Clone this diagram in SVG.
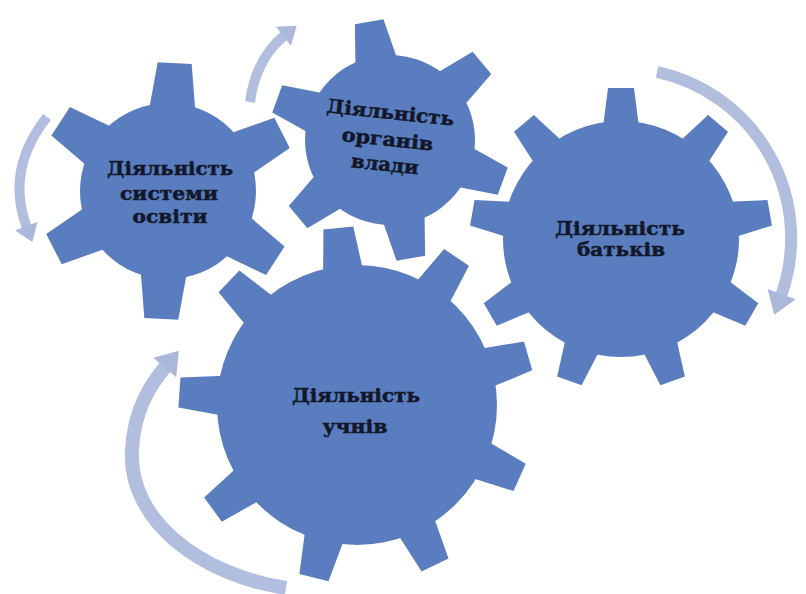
<svg xmlns="http://www.w3.org/2000/svg" xmlns:xlink="http://www.w3.org/1999/xlink" width="806" height="594" viewBox="0 0 806 594">
<style>
.gear{fill:#5a7dbf}
.lbl{font-family:"DejaVu Serif","Liberation Serif",serif;font-weight:bold;font-size:19px;fill:#121829;stroke:#121829;stroke-width:0.5px;text-anchor:middle}
.arr{fill:none;stroke:#b2bedd;stroke-linecap:butt}
</style>
<defs>
<polygon id="t1" points="-23,-82 -17,-128 17,-128 23,-82"/>
<polygon id="t2" points="-21,-80 -14.5,-120 14.5,-120 21,-80"/>
<polygon id="t3" points="-18,-112 -13,-151 13,-151 18,-112"/>
<polygon id="t4" points="-20,-134 -15,-178 15,-178 20,-134"/>
<marker id="hs" markerUnits="userSpaceOnUse" markerWidth="30" markerHeight="30" refX="2" refY="12" orient="auto" overflow="visible">
<path d="M0,0 L17,12 L0,24 z" fill="#abb8da"/>
</marker>
<marker id="hl" markerUnits="userSpaceOnUse" markerWidth="34" markerHeight="34" refX="2" refY="15" orient="auto" overflow="visible">
<path d="M0,0 L22,15 L0,30 z" fill="#abb8da"/>
</marker>
</defs>
<rect width="806" height="594" fill="#ffffff"/>

<g id="connectors">
<path class="arr" stroke-width="10" d="M 47 117 Q 5 170 27 228" marker-end="url(#hs)"/>
<path class="arr" stroke-width="10" d="M 250 102 Q 256 58 285 35" marker-end="url(#hs)"/>
<path class="arr" stroke-width="12" d="M 657 72 A 170 170 0 0 1 781 296" marker-end="url(#hl)"/>
<path class="arr" stroke-width="14" d="M 286 588 C 200 575 128 520 132 450 C 134 410 150 385 166 366" marker-end="url(#hl)"/>
</g>

<g id="gear-systemy-osvity">
<g class="gear" transform="translate(168,191)">
<circle r="88"/>
<use xlink:href="#t1" transform="rotate(3)"/>
<use xlink:href="#t1" transform="rotate(63)"/>
<use xlink:href="#t1" transform="rotate(123)"/>
<use xlink:href="#t1" transform="rotate(183)"/>
<use xlink:href="#t1" transform="rotate(243)"/>
<use xlink:href="#t1" transform="rotate(303)"/>
</g>
<text class="lbl" x="170" y="175" textLength="126" lengthAdjust="spacingAndGlyphs">Діяльність</text>
<text class="lbl" x="169" y="200" textLength="98" lengthAdjust="spacingAndGlyphs">системи</text>
<text class="lbl" x="170" y="223" textLength="75" lengthAdjust="spacingAndGlyphs">освіти</text>
</g>

<g id="gear-orhaniv-vlady">
<g class="gear" transform="translate(390,140)">
<circle r="85"/>
<use xlink:href="#t2" transform="rotate(-10)"/>
<use xlink:href="#t2" transform="rotate(50)"/>
<use xlink:href="#t2" transform="rotate(110)"/>
<use xlink:href="#t2" transform="rotate(170)"/>
<use xlink:href="#t2" transform="rotate(230)"/>
<use xlink:href="#t2" transform="rotate(290)"/>
</g>
<g transform="rotate(6 388 145)">
<text class="lbl" x="387" y="119" textLength="128" lengthAdjust="spacingAndGlyphs">Діяльність</text>
<text class="lbl" x="387" y="146" textLength="92" lengthAdjust="spacingAndGlyphs">органів</text>
<text class="lbl" x="387" y="171" textLength="68" lengthAdjust="spacingAndGlyphs">влади</text>
</g>
</g>

<g id="gear-batkiv">
<g class="gear" transform="translate(621,239)">
<circle r="118"/>
<use xlink:href="#t3" transform="rotate(0)"/>
<use xlink:href="#t3" transform="rotate(40)"/>
<use xlink:href="#t3" transform="rotate(80)"/>
<use xlink:href="#t3" transform="rotate(120)"/>
<use xlink:href="#t3" transform="rotate(160)"/>
<use xlink:href="#t3" transform="rotate(200)"/>
<use xlink:href="#t3" transform="rotate(240)"/>
<use xlink:href="#t3" transform="rotate(280)"/>
<use xlink:href="#t3" transform="rotate(320)"/>
</g>
<text class="lbl" x="620" y="235" textLength="130" lengthAdjust="spacingAndGlyphs">Діяльність</text>
<text class="lbl" x="621" y="256" textLength="88" lengthAdjust="spacingAndGlyphs">батьків</text>
</g>

<g id="gear-uchniv">
<g class="gear" transform="translate(357,405)">
<circle r="140"/>
<use xlink:href="#t4" transform="rotate(-6)"/>
<use xlink:href="#t4" transform="rotate(34)"/>
<use xlink:href="#t4" transform="rotate(74)"/>
<use xlink:href="#t4" transform="rotate(114)"/>
<use xlink:href="#t4" transform="rotate(154)"/>
<use xlink:href="#t4" transform="rotate(194)"/>
<use xlink:href="#t4" transform="rotate(234)"/>
<use xlink:href="#t4" transform="rotate(274)"/>
<use xlink:href="#t4" transform="rotate(314)"/>
</g>
<text class="lbl" x="356" y="402" textLength="128" lengthAdjust="spacingAndGlyphs">Діяльність</text>
<text class="lbl" x="355" y="433" textLength="65" lengthAdjust="spacingAndGlyphs">учнів</text>
</g>
</svg>
